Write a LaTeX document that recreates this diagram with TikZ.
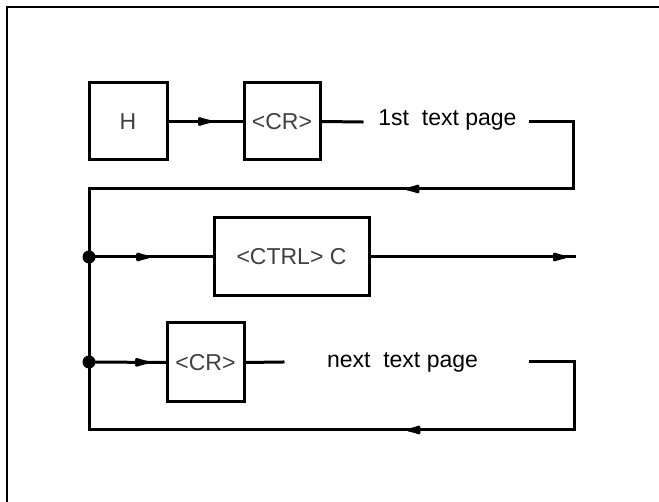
\documentclass[tikz,border=0pt]{standalone}
\usepackage{fontspec}
\setmainfont{Liberation Sans}
\usetikzlibrary{arrows.meta,decorations.markings}
\begin{document}
\begin{tikzpicture}[x=1pt,y=-1pt,
  font=\fontsize{23}{27}\selectfont,
  key/.style={draw,line width=3pt,minimum height=77pt,text=black!75,inner sep=0pt},
  label/.style={inner sep=0pt},
  wire/.style={line width=3pt,line cap=rect,line join=miter},
  junction/.style={circle,fill=black,inner sep=0pt,minimum size=13pt},
  flow/.style={postaction={decorate},
    decoration={markings,mark=at position #1 with {\arrow{Latex[length=22pt,width=10pt,round]}}}}]
\useasboundingbox (0,0) rectangle (659,502);
% open frame (top and left edges)
\draw[line width=2pt] (7,502) -- (7,7) -- (659,7);

% boxes
\node[key,minimum width=78pt] (h)    at (128,121.5) {H};
\node[key,minimum width=76pt] (cr1)  at (282,121.5) {<CR>};
\node[key,minimum width=155pt,minimum height=78pt] (ctrl) at (291.5,257) {<CTRL> C};
\node[key,minimum width=77pt,minimum height=79pt] (cr2)  at (205.5,362.5) {<CR>};

% page texts
\node[label] (t1) at (447.5,120) {1st\ \ text page};
\node[label] (t2) at (402.5,362) {next\ \ text page};

% branch points
\node[junction] (j1) at (89,257) {};
\node[junction] (j2) at (89,362) {};

% wire ends and corners
\coordinate (a1) at (362,122);
\coordinate (b1) at (530,122);
\coordinate (c1) at (573,122);
\coordinate (c2) at (573,189);
\coordinate (c3) at (89,189);
\coordinate (e1) at (574,257);
\coordinate (a2) at (283,362);
\coordinate (b2) at (530,362);
\coordinate (c4) at (574,362);
\coordinate (c5) at (574,430);
\coordinate (c6) at (89,430);

% first page line
\draw[wire,flow=43pt] (h.east) -- (cr1.west);
\draw[wire] (cr1.east) -- (a1);
\draw[wire,flow=277pt] (b1) -- (c1) -- (c2) -- (c3);

% left rail
\draw[wire] (c3) -- (c6);

% exit branch
\draw[wire,flow=54pt] (j1) -- (ctrl.west);
\draw[wire,flow=196pt] (ctrl.east) -- (e1);

% next page branch
\draw[wire,flow=53pt] (j2) -- (cr2.west);
\draw[wire] (cr2.east) -- (a2);
\draw[wire,flow=279pt] (b2) -- (c4) -- (c5) -- (c6);
\end{tikzpicture}
\end{document}
